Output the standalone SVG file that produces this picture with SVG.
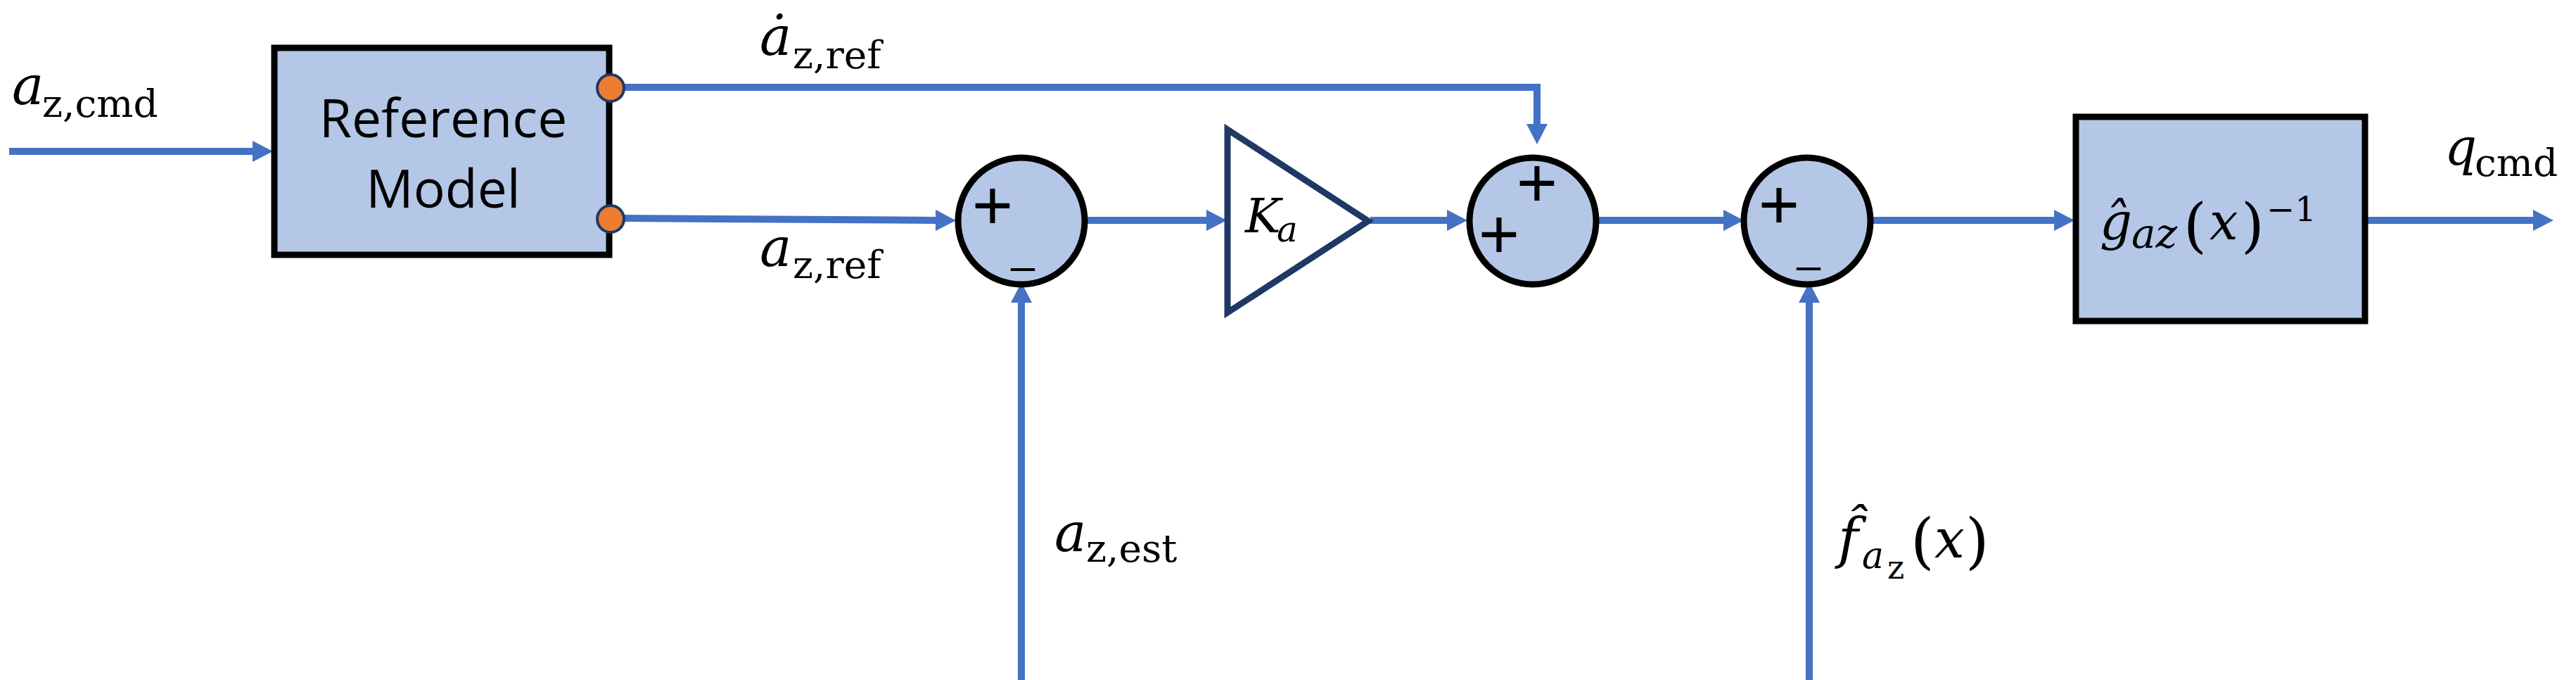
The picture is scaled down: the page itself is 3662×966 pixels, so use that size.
<svg xmlns="http://www.w3.org/2000/svg" width="3662" height="966" viewBox="0 0 3662 966">
<style>
.ln{fill:none;stroke:#4472C4;stroke-width:10;}
.blk{fill:#B4C7E7;stroke:#000;stroke-width:9;}
.sum{fill:#B4C7E7;stroke:#000;stroke-width:9;}
.tri{fill:#fff;stroke:#203864;stroke-width:9;stroke-linejoin:miter;}
.dot{fill:#ED7D31;stroke:#203864;stroke-width:4;}
.lbl{font-family:"Open Sans","Liberation Sans",sans-serif;font-weight:400;font-size:75px;fill:#000;text-anchor:middle;}
.mi{font-family:"DejaVu Serif","Liberation Serif",serif;font-style:italic;fill:#000;}
.mr{font-family:"DejaVu Serif","Liberation Serif",serif;font-style:normal;fill:#000;}
.sg{font-family:"Liberation Sans",sans-serif;font-size:100px;fill:#000;text-anchor:middle;}
.mn{font-family:"Liberation Sans",sans-serif;font-size:62px;fill:#000;text-anchor:middle;}
</style>
<defs>
<marker id="ah" markerUnits="userSpaceOnUse" markerWidth="30" markerHeight="30" refX="1" refY="15" orient="auto" viewBox="0 0 29 30">
<path d="M0,0 L29,15 L0,30 Z" fill="#4472C4"/>
</marker>
</defs>

<g id="connectors">
<path class="ln" d="M13,215 H360" marker-end="url(#ah)"/>
<path class="ln" d="M886,124 H2185 V177" marker-end="url(#ah)"/>
<path class="ln" d="M886,310 L1331,313" marker-end="url(#ah)"/>
<path class="ln" d="M1452,966 V429" marker-end="url(#ah)"/>
<path class="ln" d="M1546,313 H1716" marker-end="url(#ah)"/>
<path class="ln" d="M1948,313 H2058" marker-end="url(#ah)"/>
<path class="ln" d="M2272,313 H2451" marker-end="url(#ah)"/>
<path class="ln" d="M2572,966 V429" marker-end="url(#ah)"/>
<path class="ln" d="M2662,313 H2921" marker-end="url(#ah)"/>
<path class="ln" d="M3366,313 H3602" marker-end="url(#ah)"/>
</g>

<g id="ref-model">
<rect class="blk" x="390" y="68" width="476" height="294"/>
<text class="lbl" x="630" y="195">Reference</text>
<text class="lbl" x="630" y="295">Model</text>
<circle class="dot" cx="868" cy="125" r="19"/>
<circle class="dot" cx="868" cy="311" r="19"/>
</g>

<g id="sum1">
<circle class="sum" cx="1452" cy="314" r="90"/>
<text class="sg" x="1411" y="326">+</text>
<text class="mn" x="1454" y="399">–</text>
</g>

<g id="gain">
<polygon class="tri" points="1745,184 1945,314 1745,444"/>
<text class="mi" x="1770" y="330" font-size="68">K</text>
<text class="mi" x="1815" y="343" font-size="50">a</text>
</g>

<g id="sum2">
<circle class="sum" cx="2179" cy="314" r="90"/>
<text class="sg" x="2185" y="294">+</text>
<text class="sg" x="2131" y="367">+</text>
</g>

<g id="sum3">
<circle class="sum" cx="2569" cy="314" r="90"/>
<text class="sg" x="2529" y="325">+</text>
<text class="mn" x="2571" y="398">–</text>
</g>

<g id="ginv">
<rect class="blk" x="2951" y="166" width="411" height="290"/>
<text class="mi" x="2985" y="340" font-size="72">ĝ</text>
<text class="mi" x="3030" y="352" font-size="58">az</text>
<text class="mr" x="3104" y="349" font-size="84">(</text>
<text class="mi" x="3141" y="340" font-size="72">x</text>
<text class="mr" x="3186" y="349" font-size="84">)</text>
<text class="mr" x="3222" y="314" font-size="48">−1</text>
</g>

<g id="labels">
<text class="mi" x="17" y="148" font-size="76">a</text>
<text class="mr" x="60" y="166" font-size="55">z,cmd</text>
<text class="mi" x="1080" y="78" font-size="76">ȧ</text>
<text class="mr" x="1127" y="97" font-size="55">z,ref</text>
<text class="mi" x="1080" y="378" font-size="76">a</text>
<text class="mr" x="1127" y="395" font-size="55">z,ref</text>
<text class="mi" x="1499" y="783" font-size="76">a</text>
<text class="mr" x="1544" y="798" font-size="55">z,est</text>
<text class="mi" x="2613" y="792" font-size="78">f̂</text>
<text class="mi" x="2647" y="807" font-size="52">a</text>
<text class="mr" x="2683" y="822" font-size="46">z</text>
<text class="mr" x="2716" y="798" font-size="86">(</text>
<text class="mi" x="2750" y="792" font-size="76">x</text>
<text class="mr" x="2794" y="798" font-size="86">)</text>
<text class="mi" x="3475" y="234" font-size="72">q</text>
<text class="mr" x="3518" y="250" font-size="55">cmd</text>
</g>
</svg>
